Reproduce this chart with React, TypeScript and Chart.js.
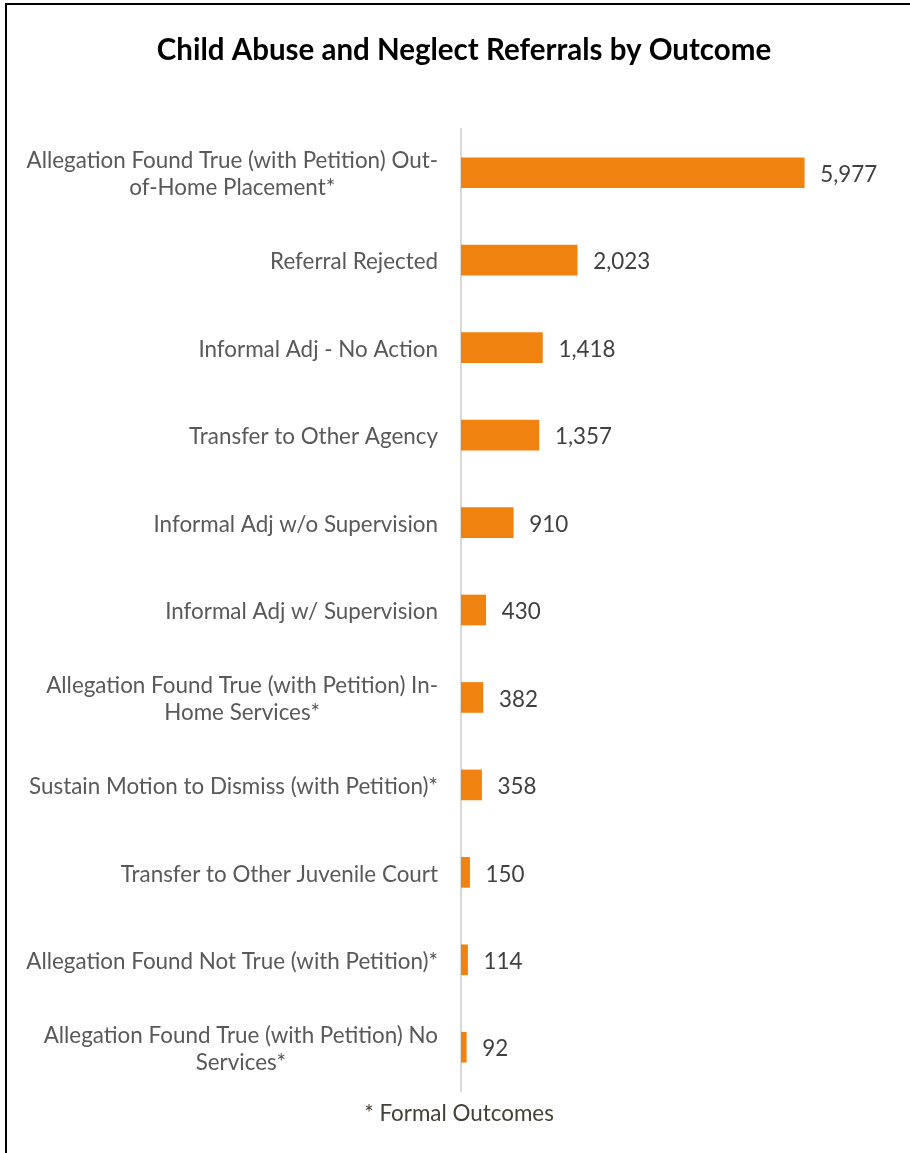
import React, { useEffect, useRef } from "react";
import { Chart, registerables } from "chart.js";

Chart.register(...registerables);

const TITLE = "Child Abuse and Neglect Referrals by Outcome";
const FOOTNOTE = "* Formal Outcomes";

const categories: string[][] = [
  ["Allegation Found True (with Petition) Out-", "of-Home Placement*"],
  ["Referral Rejected"],
  ["Informal Adj - No Action"],
  ["Transfer to Other Agency"],
  ["Informal Adj w/o Supervision"],
  ["Informal Adj w/ Supervision"],
  ["Allegation Found True (with Petition) In-", "Home Services*"],
  ["Sustain Motion to Dismiss (with Petition)*"],
  ["Transfer to Other Juvenile Court"],
  ["Allegation Found Not True (with Petition)*"],
  ["Allegation Found True (with Petition) No", "Services*"],
];

const referrals: number[] = [5977, 2023, 1418, 1357, 910, 430, 382, 358, 150, 114, 92];

const FONT = "Lato, 'Open Sans', sans-serif";
const LABEL_SIZE = 22.4;
const LABEL_COLOR = "#595959";
const VALUE_COLOR = "#404040";
const BAR_COLOR = "#F0820F";

const textPlugin = {
  id: "textPlugin",
  afterDraw(chart: any) {
    const ctx = chart.ctx;
    const y = chart.scales.y;
    const x = chart.scales.x;
    const area = chart.chartArea;
    ctx.save();
    // title
    ctx.fillStyle = "#000000";
    ctx.font = `bold 29.5px ${FONT}`;
    ctx.textAlign = "center";
    ctx.textBaseline = "middle";
    ctx.fillText(TITLE, 464, 50);

    // category labels
    ctx.font = `${LABEL_SIZE}px ${FONT}`;
    ctx.fillStyle = LABEL_COLOR;
    const rightEdge = area.left - 23;
    const lineH = 27;
    categories.forEach((lines, i) => {
      const cy = y.getPixelForValue(i) + 2;
      if (lines.length === 1) {
        ctx.textAlign = "right";
        ctx.fillText(lines[0], rightEdge, cy);
      } else {
        const w = Math.max(...lines.map((l) => ctx.measureText(l).width));
        const cx = rightEdge - w / 2;
        ctx.textAlign = "center";
        const top = cy - ((lines.length - 1) * lineH) / 2;
        lines.forEach((l, k) => ctx.fillText(l, cx, top + k * lineH));
      }
    });

    // value labels
    ctx.fillStyle = VALUE_COLOR;
    ctx.textAlign = "left";
    referrals.forEach((v, i) => {
      const px = x.getPixelForValue(v);
      const cy = y.getPixelForValue(i);
      ctx.fillText(v.toLocaleString("en-US"), px + 16, cy + 2);
    });

    // footnote
    ctx.fillStyle = "#464238";
    ctx.textAlign = "center";
    ctx.fillText(FOOTNOTE, 459, 1114);
    ctx.restore();
  },
};

export default function App() {
  const ref = useRef<HTMLCanvasElement | null>(null);
  useEffect(() => {
    if (!ref.current) return;
    const chart = new Chart(ref.current, {
      type: "bar",
      data: {
        labels: categories.map((c) => c.join(" ")),
        datasets: [
          {
            data: referrals,
            backgroundColor: BAR_COLOR,
            borderWidth: 0,
            barThickness: 30,
          },
        ],
      },
      options: {
        indexAxis: "y",
        animation: false,
        responsive: false,
        maintainAspectRatio: false,
        layout: { padding: { left: 461, right: 47, top: 129, bottom: 62 } },
        plugins: {
          legend: { display: false },
          tooltip: { enabled: false },
          title: { display: false },
        },
        scales: {
          x: {
            display: false,
            min: 0,
            max: 7000,
          },
          y: {
            display: true,
            ticks: { display: false },
            grid: { display: false, drawTicks: false },
            border: { display: true, color: "#D9D9D9", width: 2 },
          },
        },
      },
      plugins: [textPlugin],
    });
    return () => chart.destroy();
  }, []);

  return (
    <div
      style={{
        position: "absolute",
        left: 0,
        top: 0,
        width: 910,
        height: 1153,
        overflow: "hidden",
        background: "#ffffff",
      }}
    >
      <div
        style={{
          position: "absolute",
          left: 5,
          top: 3,
          width: 1000,
          height: 1300,
          borderLeft: "2px solid #000",
          borderTop: "2px solid #000",
        }}
      />
      <canvas
        ref={ref}
        width={910}
        height={1153}
        style={{ position: "absolute", left: 0, top: 0, width: 910, height: 1153 }}
      />
    </div>
  );
}
